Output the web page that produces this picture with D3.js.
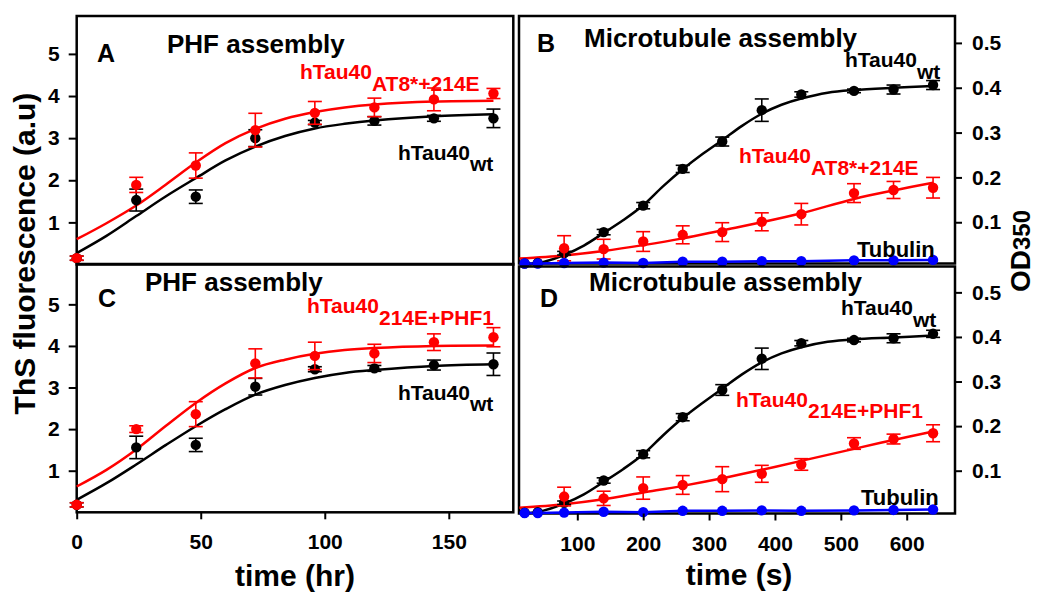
<!DOCTYPE html>
<html>
<head>
<meta charset="utf-8">
<script src="https://cdn.jsdelivr.net/npm/d3@7"></script>
<style>
body { margin: 0; background: #fff; }
svg { font-family: Arial, "Liberation Sans", sans-serif; font-weight: bold; }
</style>
</head>
<body>
<div class="visualize"></div>
<script>
// time points
var hrs = [0, 24, 48, 72, 96, 120, 144, 168];
var fitHrs = [0, 12, 24, 36, 48, 60, 72, 84, 96, 108, 120, 144, 168];
var secs = [20, 40, 80, 140, 200, 260, 320, 380, 440, 520, 580, 640];
var redSecs = [80, 140, 200, 260, 320, 380, 440, 520, 580, 640];
var wtFitSecs = [28, 50, 80, 110, 140, 170, 200, 230, 260, 290, 320, 350, 380, 410, 440, 480, 520, 580, 640];
var redFitSecs = [12, 80, 140, 200, 260, 320, 380, 440, 520, 580, 640];

// A - PHF assembly, hTau40wt vs AT8*+214E
var wtA = [0.15, 1.53, 1.61, 3.00, 3.37, 3.41, 3.47, 3.47];
var wtAerr = [0.05, 0.26, 0.16, 0.20, 0.05, 0.10, 0.07, 0.22];
var mutA = [0.15, 1.89, 2.35, 3.19, 3.60, 3.73, 3.92, 4.06];
var mutAerr = [0.05, 0.18, 0.30, 0.40, 0.27, 0.22, 0.27, 0.12];
var wtFitA = [0.27, 0.68, 1.15, 1.62, 2.05, 2.47, 2.80, 3.05, 3.23, 3.34, 3.42, 3.52, 3.57];
var mutFitA = [0.60, 0.98, 1.40, 1.90, 2.42, 2.88, 3.22, 3.46, 3.62, 3.73, 3.80, 3.87, 3.89];

// C - PHF assembly, hTau40wt vs 214E+PHF1
var wtC = [0.18, 1.56, 1.62, 3.02, 3.44, 3.46, 3.54, 3.56];
var wtCerr = [0.05, 0.27, 0.16, 0.20, 0.06, 0.07, 0.12, 0.27];
var mutC = [0.18, 2.00, 2.36, 3.58, 3.76, 3.82, 4.09, 4.21];
var mutCerr = [0.05, 0.08, 0.30, 0.35, 0.33, 0.22, 0.20, 0.23];
var wtFitC = [0.30, 0.70, 1.15, 1.62, 2.07, 2.48, 2.83, 3.06, 3.23, 3.35, 3.42, 3.52, 3.56];
var mutFitC = [0.62, 1.02, 1.51, 2.08, 2.63, 3.10, 3.47, 3.67, 3.81, 3.90, 3.95, 4.00, 4.01];

// B - microtubule assembly (OD350)
var wtB = [0.008, 0.009, 0.031, 0.078, 0.137, 0.219, 0.280, 0.350, 0.385, 0.393, 0.396, 0.406];
var wtBerr = [0, 0, 0.004, 0.006, 0.007, 0.008, 0.010, 0.025, 0.006, 0.004, 0.010, 0.010];
var mutB = [0.042, 0.040, 0.057, 0.072, 0.078, 0.101, 0.118, 0.165, 0.172, 0.177];
var mutBerr = [0.028, 0.022, 0.022, 0.020, 0.021, 0.020, 0.024, 0.021, 0.019, 0.023];
var tubB = [0.008, 0.008, 0.009, 0.010, 0.009, 0.012, 0.012, 0.013, 0.013, 0.015, 0.015, 0.016];
var wtFitB = [0.006, 0.012, 0.027, 0.048, 0.076, 0.105, 0.138, 0.180, 0.218, 0.252, 0.283, 0.315, 0.342, 0.362, 0.376, 0.389, 0.395, 0.400, 0.404];
var mutFitB = [0.019, 0.026, 0.036, 0.049, 0.064, 0.082, 0.100, 0.120, 0.152, 0.171, 0.188];

// D - microtubule assembly (OD350)
var wtD = [0.006, 0.007, 0.028, 0.078, 0.137, 0.220, 0.281, 0.351, 0.386, 0.393, 0.397, 0.407];
var wtDerr = [0, 0, 0.004, 0.006, 0.008, 0.008, 0.012, 0.024, 0.006, 0.004, 0.010, 0.008];
var mutD = [0.042, 0.038, 0.061, 0.068, 0.081, 0.093, 0.114, 0.161, 0.171, 0.184];
var mutDerr = [0.021, 0.016, 0.025, 0.021, 0.028, 0.019, 0.013, 0.013, 0.011, 0.019];
var tubD = [0.005, 0.005, 0.006, 0.008, 0.007, 0.010, 0.010, 0.011, 0.010, 0.011, 0.012, 0.013];
var wtFitD = [0.005, 0.011, 0.026, 0.047, 0.075, 0.104, 0.137, 0.179, 0.218, 0.252, 0.284, 0.316, 0.343, 0.363, 0.377, 0.389, 0.395, 0.399, 0.403];
var mutFitD = [0.017, 0.025, 0.036, 0.051, 0.066, 0.083, 0.102, 0.122, 0.149, 0.169, 0.188];

var hrTicks = [0, 50, 100, 150];
var secTicks = [100, 200, 300, 400, 500, 600];
var fluoTicks = [1, 2, 3, 4, 5];
var odTicks = [0.1, 0.2, 0.3, 0.4, 0.5];

var w = 1040, h = 592;
var svg = d3.select(".visualize").append("svg").attr("width", w).attr("height", h);

var xHr = d3.scaleLinear().domain([0, 176]).range([76.7, 513.3]);
var xSec = d3.scaleLinear().domain([11.5, 673.3]).range([519, 955]);
var yA = d3.scaleLinear().domain([0, 5.9]).range([264.5, 16]);
var yC = d3.scaleLinear().domain([0, 5.97]).range([512.3, 264]);
var yB = d3.scaleLinear().domain([0.008, 0.56]).range([263.5, 16]);
var yD = d3.scaleLinear().domain([0.004, 0.558]).range([513.5, 266.5]);

function zip(t, v, e) {
    return t.map(function(d, i) { return {t: d, v: v[i], e: e ? e[i] : 0}; });
}

function drawPanel(x, y, curves, series) {
    var g = svg.append("g");
    g.append("rect")
        .attr("x", x.range()[0]).attr("y", y.range()[1])
        .attr("width", x.range()[1] - x.range()[0])
        .attr("height", y.range()[0] - y.range()[1])
        .attr("fill", "none").attr("stroke", "#000").attr("stroke-width", 2.5);

    var smooth = d3.line()
        .x(function(d) { return x(d.t); })
        .y(function(d) { return y(d.v); })
        .curve(d3.curveCatmullRom.alpha(0.5));
    var straight = d3.line()
        .x(function(d) { return x(d.t); })
        .y(function(d) { return y(d.v); });

    curves.forEach(function(c) {
        g.append("path").datum(zip(c.t, c.v))
            .attr("d", c.straight ? straight : smooth)
            .attr("fill", "none").attr("stroke", c.color).attr("stroke-width", 2.5);
    });

    series.forEach(function(s) {
        var pts = zip(s.t, s.v, s.e);
        var eb = g.append("g").selectAll("g").data(pts.filter(function(d) { return d.e > 0; }))
            .enter().append("g").attr("stroke", s.color).attr("stroke-width", 1.6);
        eb.append("line")
            .attr("x1", function(d) { return x(d.t); }).attr("x2", function(d) { return x(d.t); })
            .attr("y1", function(d) { return y(d.v - d.e); }).attr("y2", function(d) { return y(d.v + d.e); });
        eb.append("line")
            .attr("x1", function(d) { return x(d.t) - 7; }).attr("x2", function(d) { return x(d.t) + 7; })
            .attr("y1", function(d) { return y(d.v - d.e); }).attr("y2", function(d) { return y(d.v - d.e); });
        eb.append("line")
            .attr("x1", function(d) { return x(d.t) - 7; }).attr("x2", function(d) { return x(d.t) + 7; })
            .attr("y1", function(d) { return y(d.v + d.e); }).attr("y2", function(d) { return y(d.v + d.e); });

        g.append("g").selectAll("circle").data(pts).enter().append("circle")
            .attr("cx", function(d) { return x(d.t); })
            .attr("cy", function(d) { return y(d.v); })
            .attr("r", 5.2)
            .attr("fill", s.color);
    });
}

function styleAxis(a) {
    a.select(".domain").remove();
    a.selectAll(".tick line").attr("stroke", "#000").attr("stroke-width", 2);
    a.selectAll(".tick text")
        .attr("fill", "#000")
        .style("font-size", "21px")
        .style("font-weight", "bold")
        .style("font-family", "Arial, 'Liberation Sans', sans-serif");
}

function label(x, y, text, color, size) {
    svg.append("text").attr("x", x).attr("y", y).attr("fill", color)
        .style("font-size", size + "px").text(text);
}

function subLabel(x, y, main, sub, color, drop) {
    var t = svg.append("text").attr("x", x).attr("y", y).attr("fill", color).style("font-size", "21px");
    t.append("tspan").text(main);
    t.append("tspan").attr("dy", drop).text(sub);
}

drawPanel(xHr, yA,
    [{t: fitHrs, v: wtFitA, color: "#000"}, {t: fitHrs, v: mutFitA, color: "#ff0000"}],
    [{t: hrs, v: wtA, e: wtAerr, color: "#000"}, {t: hrs, v: mutA, e: mutAerr, color: "#ff0000"}]);

drawPanel(xHr, yC,
    [{t: fitHrs, v: wtFitC, color: "#000"}, {t: fitHrs, v: mutFitC, color: "#ff0000"}],
    [{t: hrs, v: wtC, e: wtCerr, color: "#000"}, {t: hrs, v: mutC, e: mutCerr, color: "#ff0000"}]);

drawPanel(xSec, yB,
    [{t: wtFitSecs, v: wtFitB, color: "#000"}, {t: redFitSecs, v: mutFitB, color: "#ff0000"},
     {t: secs, v: tubB, color: "#0000ff", straight: true}],
    [{t: secs, v: wtB, e: wtBerr, color: "#000"}, {t: redSecs, v: mutB, e: mutBerr, color: "#ff0000"},
     {t: secs, v: tubB, color: "#0000ff"}]);

drawPanel(xSec, yD,
    [{t: wtFitSecs, v: wtFitD, color: "#000"}, {t: redFitSecs, v: mutFitD, color: "#ff0000"},
     {t: secs, v: tubD, color: "#0000ff", straight: true}],
    [{t: secs, v: wtD, e: wtDerr, color: "#000"}, {t: redSecs, v: mutD, e: mutDerr, color: "#ff0000"},
     {t: secs, v: tubD, color: "#0000ff"}]);

// axes
styleAxis(svg.append("g").attr("transform", "translate(76.7,0)")
    .call(d3.axisLeft(yA).tickValues(fluoTicks).tickSize(8).tickPadding(9).tickFormat(d3.format("d"))));
styleAxis(svg.append("g").attr("transform", "translate(76.7,0)")
    .call(d3.axisLeft(yC).tickValues(fluoTicks).tickSize(8).tickPadding(9).tickFormat(d3.format("d"))));
styleAxis(svg.append("g").attr("transform", "translate(0,512.3)")
    .call(d3.axisBottom(xHr).tickValues(hrTicks).tickSize(7).tickPadding(15).tickFormat(d3.format("d"))));
styleAxis(svg.append("g").attr("transform", "translate(955,0)")
    .call(d3.axisRight(yB).tickValues(odTicks).tickSize(7).tickPadding(10).tickFormat(d3.format(".1f"))));
styleAxis(svg.append("g").attr("transform", "translate(955,0)")
    .call(d3.axisRight(yD).tickValues(odTicks).tickSize(7).tickPadding(10).tickFormat(d3.format(".1f"))));
styleAxis(svg.append("g").attr("transform", "translate(0,513.5)")
    .call(d3.axisBottom(xSec).tickValues(secTicks).tickSize(7).tickPadding(16).tickFormat(d3.format("d"))));

// panel letters and titles
label(97, 62, "A", "#000", 25);
label(167, 53, "PHF assembly", "#000", 26);
subLabel(300, 79, "hTau40", "AT8*+214E", "#ff0000", 12);
subLabel(398, 160, "hTau40", "wt", "#000", 11);

label(537, 52, "B", "#000", 25);
label(584, 47, "Microtubule assembly", "#000", 26);
subLabel(845, 67, "hTau40", "wt", "#000", 12);
subLabel(739, 163, "hTau40", "AT8*+214E", "#ff0000", 12);
label(857, 257, "Tubulin", "#000", 22);

label(98, 307, "C", "#000", 25);
label(145, 291, "PHF assembly", "#000", 26);
subLabel(307, 313, "hTau40", "214E+PHF1", "#ff0000", 12);
subLabel(398, 400, "hTau40", "wt", "#000", 11);

label(540, 307, "D", "#000", 25);
label(589, 291, "Microtubule assembly", "#000", 26);
subLabel(841, 315, "hTau40", "wt", "#000", 12);
subLabel(736, 407, "hTau40", "214E+PHF1", "#ff0000", 11);
label(861, 505, "Tubulin", "#000", 22);

// axis titles
svg.append("text").attr("x", 295).attr("y", 586).attr("text-anchor", "middle")
    .style("font-size", "30px").text("time (hr)");
svg.append("text").attr("x", 739).attr("y", 585).attr("text-anchor", "middle")
    .style("font-size", "30px").text("time (s)");
svg.append("text").attr("transform", "translate(34.5,253.5) rotate(-90)").attr("text-anchor", "middle")
    .style("font-size", "30px").text("ThS fluorescence (a.u)");
var od = svg.append("text").attr("transform", "translate(1030,251) rotate(-90)").attr("text-anchor", "middle");
od.append("tspan").style("font-size", "28px").text("OD");
od.append("tspan").style("font-size", "24px").text("350");
</script>
</body>
</html>
